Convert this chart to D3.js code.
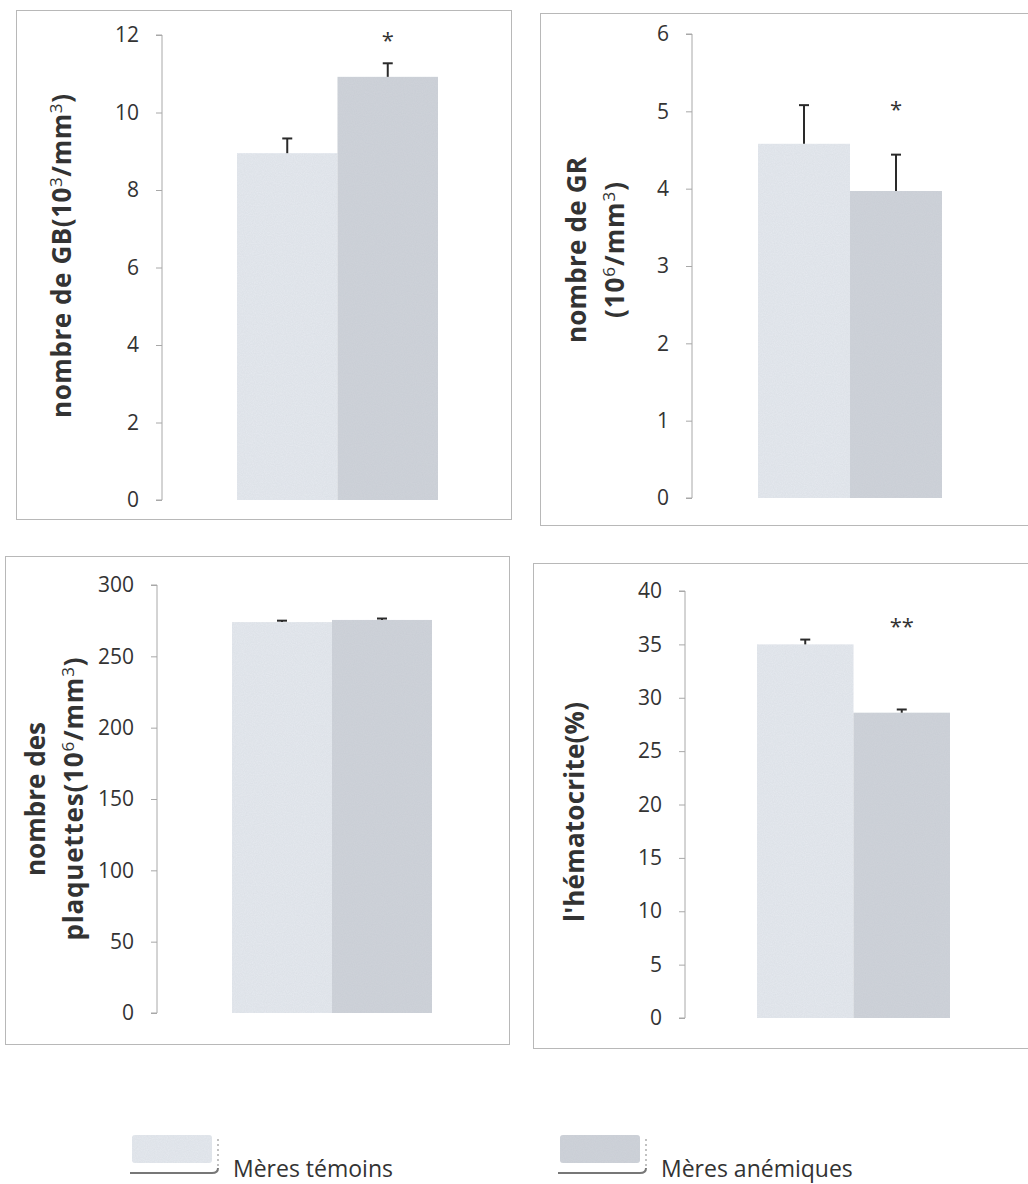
<!DOCTYPE html>
<html>
<head>
<meta charset="utf-8">
<script src="https://cdn.jsdelivr.net/npm/d3@7"></script>
<style>
  body { margin: 0; background: #fff; }
  text { font-family: "Open Sans", "DejaVu Sans", sans-serif; fill: #333; }
</style>
</head>
<body>
<svg id="chart" width="1028" height="1184"></svg>
<script>
// Groups compared in every panel
const groups = ["Mères témoins", "Mères anémiques"];

// Globules blancs (10^3/mm^3)
const gbMeans = [8.95, 10.92];
const gbErrors = [0.38, 0.35];
const gbTicks = [0, 2, 4, 6, 8, 10, 12];
const gbMarks = ["", "*"];

// Globules rouges (10^6/mm^3)
const grMeans = [4.58, 3.97];
const grErrors = [0.5, 0.47];
const grTicks = [0, 1, 2, 3, 4, 5, 6];
const grMarks = ["", "*"];

// Plaquettes
const plaqMeans = [274, 275.5];
const plaqErrors = [1, 1];
const plaqTicks = [0, 50, 100, 150, 200, 250, 300];
const plaqMarks = ["", ""];

// Hématocrite (%)
const hemaMeans = [35.0, 28.6];
const hemaErrors = [0.45, 0.3];
const hemaTicks = [0, 5, 10, 15, 20, 25, 30, 35, 40];
const hemaMarks = ["", "**"];

// Axis titles: each line is a list of [text, isSuperscript] pieces
const gbTitle = [[["nombre de GB(10", 0], ["3", 1], ["/mm", 0], ["3", 1], [")", 0]]];
const grTitle = [[["nombre de GR", 0]], [["(10", 0], ["6", 1], ["/mm", 0], ["3", 1], [")", 0]]];
const plaqTitle = [[["nombre des", 0]], [["plaquettes(10", 0], ["6", 1], ["/mm", 0], ["3", 1], [")", 0]]];
const hemaTitle = [[["l'hématocrite(%)", 0]]];

const colors = ["#e5e9ef", "#cfd3da"];

const svg = d3.select("#chart");

// Subtle grain on the bar fills
const defs = svg.append("defs");
const grain = defs.append("filter").attr("id", "grain").attr("x", 0).attr("y", 0).attr("width", 1).attr("height", 1);
grain.append("feTurbulence").attr("type", "fractalNoise").attr("baseFrequency", 0.9).attr("numOctaves", 2).attr("seed", 3).attr("result", "noise");
grain.append("feColorMatrix").attr("in", "noise").attr("type", "matrix")
  .attr("values", "0 0 0 0 0.45  0 0 0 0 0.47  0 0 0 0 0.52  0 0 0 0.22 0").attr("result", "tint");
grain.append("feComposite").attr("in", "tint").attr("in2", "SourceGraphic").attr("operator", "in").attr("result", "spots");
grain.append("feMerge").selectAll("feMergeNode").data(["SourceGraphic", "spots"]).join("feMergeNode").attr("in", d => d);

const panels = [
  { means: gbMeans, errors: gbErrors, ticks: gbTicks, marks: gbMarks, title: gbTitle, markAt: 12.05,
    frame: [16, 10, 495, 509], axisX: 162, y0: 500, yTop: 35, band: [237, 438],
    titleX: [62], titleY: 256, titleLen: [324] },
  { means: grMeans, errors: grErrors, ticks: grTicks, marks: grMarks, title: grTitle, markAt: 5.12,
    frame: [540, 13, 520, 512], axisX: 692, y0: 498, yTop: 34, band: [758, 942],
    titleX: [577, 615], titleY: 250, titleLen: [186, 136] },
  { means: plaqMeans, errors: plaqErrors, ticks: plaqTicks, marks: plaqMarks, title: plaqTitle, markAt: 290,
    frame: [5, 556, 504, 488], axisX: 157, y0: 1013, yTop: 585, band: [232, 432],
    titleX: [36, 74], titleY: 799, titleLen: [154, 283] },
  { means: hemaMeans, errors: hemaErrors, ticks: hemaTicks, marks: hemaMarks, title: hemaTitle, markAt: 37.45,
    frame: [533, 563, 520, 485], axisX: 685, y0: 1018, yTop: 591, band: [757, 950],
    titleX: [575], titleY: 812, titleLen: [220] }
];

panels.forEach(p => {
  const g = svg.append("g");
  const [fx, fy, fw, fh] = p.frame;

  g.append("rect")
    .attr("x", fx + 0.5).attr("y", fy + 0.5).attr("width", fw).attr("height", fh)
    .attr("fill", "none").attr("stroke", "#b8b8b8").attr("stroke-width", 1);

  const top = d3.max(p.ticks);
  const y = d3.scaleLinear().domain([0, top]).range([p.y0, p.yTop]);
  const x = d3.scaleBand().domain(groups).range(p.band).paddingInner(0).paddingOuter(0);

  // bars
  g.selectAll("rect.bar")
    .data(groups)
    .join("rect")
    .attr("class", "bar")
    .attr("x", d => x(d))
    .attr("width", x.bandwidth())
    .attr("y", (d, i) => y(p.means[i]))
    .attr("height", (d, i) => y(0) - y(p.means[i]))
    .attr("fill", (d, i) => colors[i])
    .attr("filter", "url(#grain)");

  // y axis
  const axis = d3.axisLeft(y).tickValues(p.ticks).tickSize(6).tickPadding(17).tickFormat(d3.format("d"));
  const ax = g.append("g").attr("transform", `translate(${p.axisX},0)`).call(axis);
  ax.select(".domain").attr("stroke", "#a8a8a8").attr("d", `M-6,${p.yTop}H0V${p.y0}H-6`);
  ax.selectAll(".tick line").attr("stroke", "#a8a8a8");
  ax.selectAll(".tick text").attr("font-size", 21).attr("fill", "#383838")
    .style("font-family", '"Open Sans", sans-serif');

  // error bars (upper half only)
  const err = g.selectAll("g.err").data(groups).join("g").attr("class", "err");
  err.append("line")
    .attr("x1", d => x(d) + x.bandwidth() / 2).attr("x2", d => x(d) + x.bandwidth() / 2)
    .attr("y1", (d, i) => y(p.means[i])).attr("y2", (d, i) => y(p.means[i] + p.errors[i]))
    .attr("stroke", "#2a2a2a").attr("stroke-width", 2);
  err.append("line")
    .attr("x1", d => x(d) + x.bandwidth() / 2 - 5).attr("x2", d => x(d) + x.bandwidth() / 2 + 5)
    .attr("y1", (d, i) => y(p.means[i] + p.errors[i])).attr("y2", (d, i) => y(p.means[i] + p.errors[i]))
    .attr("stroke", "#2a2a2a").attr("stroke-width", 2);

  // significance marks
  g.selectAll("text.mark").data(groups).join("text")
    .attr("class", "mark")
    .attr("x", d => x(d) + x.bandwidth() / 2)
    .attr("y", y(p.markAt))
    .attr("dy", "0.7em")
    .attr("text-anchor", "middle")
    .attr("font-size", 22)
    .text((d, i) => p.marks[i]);

  // rotated y-axis title
  p.title.forEach((line, li) => {
    const t = g.append("text")
      .attr("transform", `translate(${p.titleX[li]},${p.titleY}) rotate(-90)`)
      .attr("text-anchor", "middle")
      .attr("dy", "0.36em")
      .attr("font-size", 26)
      .attr("font-weight", 700)
      .attr("fill", "#222")
      .attr("textLength", p.titleLen[li])
      .attr("lengthAdjust", "spacing");
    line.forEach(([s, sup]) => {
      const ts = t.append("tspan").text(s);
      if (sup) ts.attr("font-size", 17).attr("baseline-shift", "55%").attr("font-weight", 400);
    });
  });
});

// legend
const legendX = [132, 560];
const legend = svg.selectAll("g.legend").data(groups).join("g")
  .attr("class", "legend")
  .attr("transform", (d, i) => `translate(${legendX[i]},1135)`);
legend.append("rect")
  .attr("x", 0).attr("y", 0).attr("width", 80).attr("height", 28).attr("rx", 3)
  .attr("fill", (d, i) => colors[i])
  .attr("filter", "url(#grain)");
legend.append("path")
  .attr("d", "M-2,38 H80 Q86,38 86,33")
  .attr("fill", "none").attr("stroke", "#777").attr("stroke-width", 2);
legend.append("line")
  .attr("x1", 86).attr("x2", 86).attr("y1", 4).attr("y2", 32)
  .attr("stroke", "#999").attr("stroke-width", 1.2).attr("stroke-dasharray", "2,3");
legend.append("text")
  .attr("x", 101).attr("y", 42)
  .attr("font-size", 23)
  .attr("fill", "#333")
  .text(d => d);
</script>
</body>
</html>
